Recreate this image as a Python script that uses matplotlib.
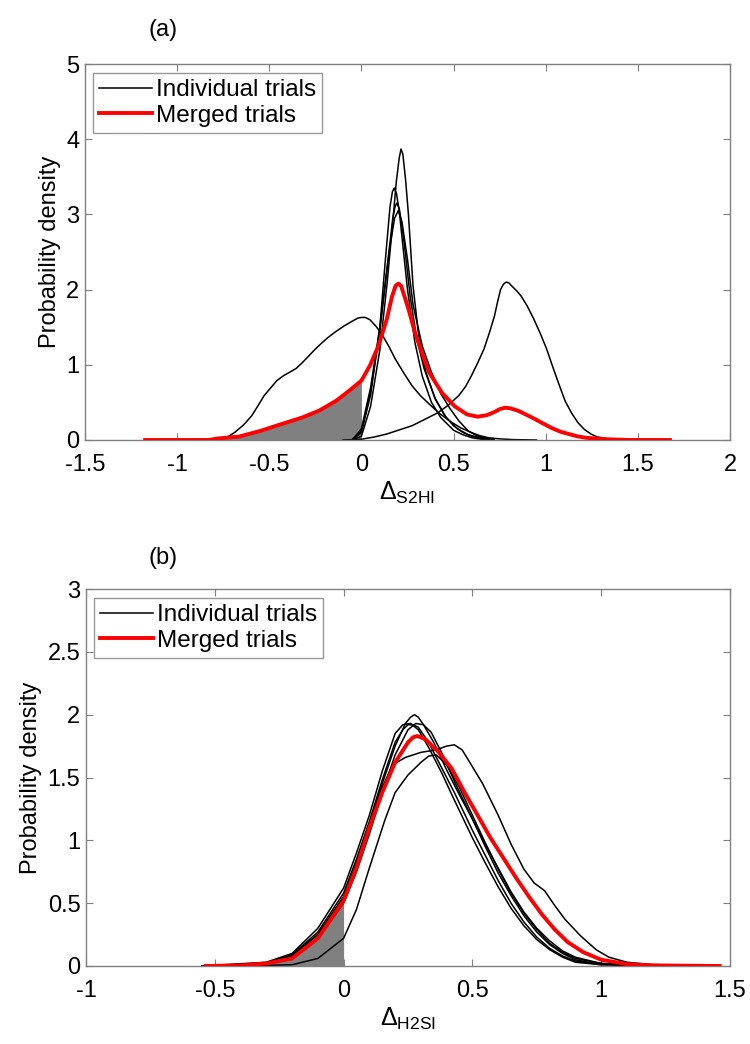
import numpy as np
import matplotlib.pyplot as plt

plt.rcParams['font.family'] = ['Liberation Sans', 'DejaVu Sans']
plt.rcParams['mathtext.fontset'] = 'custom'
plt.rcParams['mathtext.rm'] = 'Liberation Sans'

# ---- panel (a): individual trials ----
a_wide_x = [-0.85, -0.757, -0.72, -0.688, -0.64, -0.596, -0.56, -0.528, -0.49, -0.459, -0.42, -0.39, -0.355,
            -0.32, -0.285, -0.25, -0.215, -0.183, -0.14, -0.092, -0.05, -0.02, 0.0, 0.02, 0.046, 0.08,
            0.115, 0.15, 0.183, 0.23, 0.275, 0.32, 0.367, 0.42, 0.48, 0.54, 0.596, 0.64, 0.688, 0.75, 0.826, 0.95]
a_wide_y = [0.0, 0.02, 0.05, 0.1, 0.2, 0.32, 0.46, 0.59, 0.7, 0.79, 0.86, 0.9, 0.95,
            1.03, 1.12, 1.21, 1.29, 1.36, 1.44, 1.52, 1.58, 1.62, 1.63, 1.63, 1.6, 1.51,
            1.39, 1.24, 1.08, 0.89, 0.72, 0.59, 0.48, 0.36, 0.25, 0.16, 0.1, 0.06, 0.03, 0.015, 0.005, 0.0]

a_right_x = [-0.1, 0.0, 0.07, 0.138, 0.2, 0.275, 0.34, 0.413, 0.47, 0.528, 0.565, 0.596, 0.63, 0.665, 0.695,
             0.722, 0.74, 0.755, 0.77, 0.785, 0.8, 0.815, 0.84, 0.865, 0.9, 0.935, 0.97,
             1.005, 1.04, 1.075, 1.105, 1.14, 1.175, 1.21, 1.245, 1.28, 1.35, 1.45]
a_right_y = [0.0, 0.01, 0.04, 0.08, 0.13, 0.19, 0.27, 0.36, 0.46, 0.59, 0.71, 0.85, 1.02, 1.21, 1.43,
             1.65, 1.85, 2.0, 2.07, 2.1, 2.09, 2.05, 1.99, 1.92, 1.78, 1.61, 1.42,
             1.21, 0.96, 0.72, 0.52, 0.36, 0.23, 0.14, 0.08, 0.04, 0.01, 0.0]

a_c1_x = [-0.05, 0.0, 0.05, 0.1, 0.14, 0.17, 0.19, 0.205, 0.215, 0.225, 0.24, 0.255, 0.28, 0.31, 0.35, 0.4,
          0.45, 0.5, 0.55, 0.6, 0.65, 0.72]
a_c1_y = [0.0, 0.05, 0.45, 1.2, 2.1, 2.9, 3.45, 3.75, 3.87, 3.8, 3.45, 3.0, 2.05, 1.4, 0.9, 0.55,
          0.33, 0.19, 0.1, 0.05, 0.02, 0.0]

a_c2_x = [-0.05, 0.0, 0.05, 0.1, 0.13, 0.155, 0.168, 0.178, 0.19, 0.205, 0.22, 0.25, 0.29, 0.33, 0.38,
          0.43, 0.5, 0.55, 0.6, 0.65, 0.72]
a_c2_y = [0.0, 0.1, 0.6, 1.5, 2.4, 3.1, 3.3, 3.35, 3.28, 3.05, 2.7, 2.0, 1.3, 0.85, 0.5,
          0.3, 0.13, 0.07, 0.03, 0.01, 0.0]

a_c3_x = [-0.05, 0.0, 0.05, 0.1, 0.14, 0.17, 0.182, 0.192, 0.205, 0.22, 0.24, 0.265, 0.3, 0.34, 0.4,
          0.46, 0.52, 0.58, 0.64, 0.72]
a_c3_y = [0.0, 0.12, 0.65, 1.45, 2.3, 2.95, 3.1, 3.15, 3.08, 2.85, 2.45, 1.9, 1.35, 0.95, 0.55,
          0.3, 0.15, 0.07, 0.03, 0.0]

a_c4_x = [-0.05, 0.0, 0.05, 0.1, 0.15, 0.18, 0.2, 0.22, 0.25, 0.28, 0.33, 0.38, 0.43, 0.48, 0.53, 0.58,
          0.63, 0.72]
a_c4_y = [0.0, 0.15, 0.7, 1.5, 2.5, 2.95, 3.05, 2.9, 2.4, 1.8, 1.25, 0.9, 0.62, 0.42, 0.25, 0.12,
          0.05, 0.0]

# panel (a): merged trials
a_merged_x = [-1.174, -0.83, -0.78, -0.665, -0.55, -0.436, -0.32, -0.23, -0.138, -0.069, 0.0, 0.046,
              0.092, 0.138, 0.165, 0.185, 0.2, 0.215, 0.235, 0.26, 0.29, 0.321, 0.367, 0.436, 0.505,
              0.573, 0.63, 0.68, 0.72, 0.75, 0.78, 0.81, 0.849, 0.9, 0.94, 0.985, 1.032, 1.08, 1.124,
              1.17, 1.216, 1.33, 1.45, 1.674]
a_merged_y = [0.0, 0.0, 0.02, 0.045, 0.12, 0.21, 0.3, 0.39, 0.52, 0.65, 0.79, 0.99,
              1.25, 1.61, 1.9, 2.05, 2.08, 2.05, 1.9, 1.7, 1.43, 1.21, 0.9, 0.63, 0.45,
              0.34, 0.31, 0.33, 0.37, 0.41, 0.43, 0.42, 0.39, 0.33, 0.28, 0.22, 0.16, 0.11, 0.08,
              0.05, 0.03, 0.01, 0.0, 0.0]

# ---- panel (b): individual trials ----
b_t1_x = [-0.55, -0.3, -0.2, -0.1, 0.0, 0.05, 0.1, 0.15, 0.2, 0.24, 0.26, 0.275, 0.29, 0.31, 0.35, 0.4,
          0.45, 0.5, 0.55, 0.6, 0.65, 0.7, 0.75, 0.8, 0.85, 0.9, 1.0, 1.1, 1.45]
b_t1_y = [0.0, 0.02, 0.08, 0.25, 0.55, 0.8, 1.12, 1.45, 1.75, 1.93, 1.98, 2.0, 1.98, 1.92, 1.78, 1.56,
          1.36, 1.17, 0.97, 0.78, 0.59, 0.43, 0.3, 0.2, 0.12, 0.07, 0.02, 0.005, 0.0]

b_t2_x = [-0.55, -0.3, -0.2, -0.1, 0.0, 0.05, 0.1, 0.15, 0.2, 0.23, 0.26, 0.29, 0.33, 0.38, 0.43, 0.5,
          0.55, 0.6, 0.65, 0.7, 0.75, 0.8, 0.85, 0.9, 1.0, 1.45]
b_t2_y = [0.0, 0.03, 0.1, 0.3, 0.62, 0.9, 1.2, 1.55, 1.85, 1.92, 1.93, 1.88, 1.74, 1.54, 1.32, 1.02,
          0.82, 0.63, 0.46, 0.32, 0.21, 0.13, 0.07, 0.03, 0.01, 0.0]

b_t3_x = [-0.55, -0.3, -0.2, -0.1, 0.0, 0.05, 0.1, 0.15, 0.2, 0.25, 0.28, 0.31, 0.34, 0.38, 0.43, 0.5,
          0.55, 0.6, 0.65, 0.7, 0.75, 0.8, 0.85, 0.9, 0.95, 1.05, 1.45]
b_t3_y = [0.0, 0.02, 0.07, 0.22, 0.5, 0.75, 1.05, 1.38, 1.68, 1.88, 1.93, 1.92, 1.86, 1.7, 1.47, 1.17,
          0.95, 0.74, 0.56, 0.4, 0.27, 0.17, 0.1, 0.05, 0.03, 0.01, 0.0]

b_t4_x = [-0.55, -0.3, -0.2, -0.1, 0.0, 0.05, 0.1, 0.15, 0.19, 0.24, 0.3, 0.36, 0.4, 0.43, 0.46, 0.49,
          0.54, 0.6, 0.65, 0.7, 0.74, 0.78, 0.82, 0.86, 0.92, 0.98, 1.03, 1.1, 1.2, 1.45]
b_t4_y = [0.0, 0.02, 0.08, 0.25, 0.55, 0.82, 1.12, 1.42, 1.6, 1.66, 1.7, 1.72, 1.75, 1.76, 1.72, 1.62,
          1.45, 1.2, 0.97, 0.77, 0.66, 0.6, 0.48, 0.37, 0.24, 0.13, 0.07, 0.03, 0.01, 0.0]

b_t5_x = [-0.4, -0.2, -0.1, 0.0, 0.05, 0.1, 0.16, 0.2, 0.25, 0.3, 0.33, 0.36, 0.4, 0.45, 0.5, 0.55,
          0.6, 0.65, 0.7, 0.75, 0.8, 0.85, 0.9, 1.0, 1.45]
b_t5_y = [0.0, 0.01, 0.06, 0.22, 0.45, 0.78, 1.16, 1.38, 1.52, 1.62, 1.67, 1.68, 1.6, 1.42, 1.2, 0.98,
          0.77, 0.58, 0.42, 0.29, 0.18, 0.11, 0.06, 0.02, 0.0]

b_t6_x = [-0.55, -0.3, -0.2, -0.1, 0.0, 0.05, 0.1, 0.15, 0.2, 0.23, 0.25, 0.27, 0.29, 0.33, 0.38, 0.43,
          0.5, 0.55, 0.6, 0.65, 0.7, 0.75, 0.8, 0.85, 0.9, 1.0, 1.45]
b_t6_y = [0.0, 0.02, 0.09, 0.27, 0.58, 0.85, 1.15, 1.48, 1.78, 1.88, 1.92, 1.92, 1.9, 1.78, 1.58, 1.38,
          1.08, 0.88, 0.68, 0.5, 0.35, 0.23, 0.14, 0.08, 0.04, 0.01, 0.0]

# panel (b): merged trials
b_merged_x = [-0.535, -0.4, -0.3, -0.2, -0.1, 0.0, 0.05, 0.1, 0.15, 0.2, 0.25, 0.27, 0.285, 0.3, 0.32,
              0.37, 0.42, 0.47, 0.52, 0.57, 0.62, 0.67, 0.72, 0.77, 0.82, 0.87, 0.93, 1.0, 1.1, 1.2, 1.46]
b_merged_y = [0.0, 0.005, 0.02, 0.06, 0.22, 0.52, 0.78, 1.1, 1.38, 1.62, 1.78, 1.82, 1.83, 1.82, 1.8,
              1.7, 1.57, 1.38, 1.2, 1.02, 0.86, 0.7, 0.55, 0.41, 0.29, 0.19, 0.11, 0.05, 0.015, 0.005, 0.0]

panels = [
    dict(rect=[85 / 750, 1 - 440 / 1044, 645 / 750, 376 / 1044],
         trials=[(a_wide_x, a_wide_y), (a_right_x, a_right_y), (a_c1_x, a_c1_y),
                 (a_c2_x, a_c2_y), (a_c3_x, a_c3_y), (a_c4_x, a_c4_y)],
         merged=(a_merged_x, a_merged_y),
         xlim=(-1.5, 2), ylim=(0, 5),
         xticks=[-1.5, -1, -0.5, 0, 0.5, 1, 1.5, 2], xticklabels=['-1.5', '-1', '-0.5', '0', '0.5', '1', '1.5', '2'],
         yticks=[0, 1, 2, 3, 4, 5], yticklabels=['0', '1', '2', '3', '4', '5'],
         xlabel=r'$\Delta_{\mathrm{S2HI}}$', tag='(a)', tag_y=1 - 30 / 1044),
    dict(rect=[86 / 750, 1 - 966 / 1044, 644 / 750, 377 / 1044],
         trials=[(b_t1_x, b_t1_y), (b_t2_x, b_t2_y), (b_t3_x, b_t3_y),
                 (b_t4_x, b_t4_y), (b_t5_x, b_t5_y), (b_t6_x, b_t6_y)],
         merged=(b_merged_x, b_merged_y),
         xlim=(-1, 1.5), ylim=(0, 3),
         xticks=[-1, -0.5, 0, 0.5, 1, 1.5], xticklabels=['-1', '-0.5', '0', '0.5', '1', '1.5'],
         yticks=[0, 0.5, 1, 1.5, 2, 2.5, 3], yticklabels=['0', '0.5', '1', '1.5', '2', '2.5', '3'],
         xlabel=r'$\Delta_{\mathrm{H2SI}}$', tag='(b)', tag_y=1 - 558 / 1044),
]

fig = plt.figure(figsize=(7.5, 10.44), dpi=100)

for p in panels:
    ax = fig.add_axes(p['rect'])
    mx, my = np.array(p['merged'][0]), np.array(p['merged'][1])
    # shaded area of the merged density below zero
    neg = mx <= 0
    ax.fill_between(mx[neg], 0, my[neg], color='#808080', lw=0, zorder=1)
    for i, (tx, ty) in enumerate(p['trials']):
        ax.plot(tx, ty, color='black', lw=1.1, zorder=2,
                label='Individual trials' if i == 0 else None)
    ax.plot(mx, my, color='#ff0000', lw=2.8, zorder=3, label='Merged trials')

    ax.set_xlim(*p['xlim'])
    ax.set_ylim(*p['ylim'])
    ax.set_xticks(p['xticks'])
    ax.set_xticklabels(p['xticklabels'])
    ax.set_yticks(p['yticks'])
    ax.set_yticklabels(p['yticklabels'])
    ax.tick_params(direction='in', length=5, width=0.8, color='#808080', labelsize=17,
                   top=True, right=True)
    ax.tick_params(axis='x', pad=10)
    ax.tick_params(axis='y', pad=4)
    for s in ax.spines.values():
        s.set_color('#808080')
        s.set_linewidth(1.0)
    ax.set_ylabel('Probability density', fontsize=17, labelpad=4)
    ax.set_xlabel(p['xlabel'], fontsize=18, labelpad=3)

    leg = ax.legend(loc='upper left', bbox_to_anchor=(0.012, 0.976), borderaxespad=0,
                    fontsize=17.5, frameon=True, fancybox=False, handlelength=2.2,
                    handletextpad=0.15, borderpad=0.25, labelspacing=0.15)
    leg.get_frame().set_edgecolor('#808080')
    leg.get_frame().set_linewidth(1.0)

    fig.text(163 / 750, p['tag_y'], p['tag'], fontsize=17, ha='center', va='center')

fig.savefig('out.png', dpi=100)
